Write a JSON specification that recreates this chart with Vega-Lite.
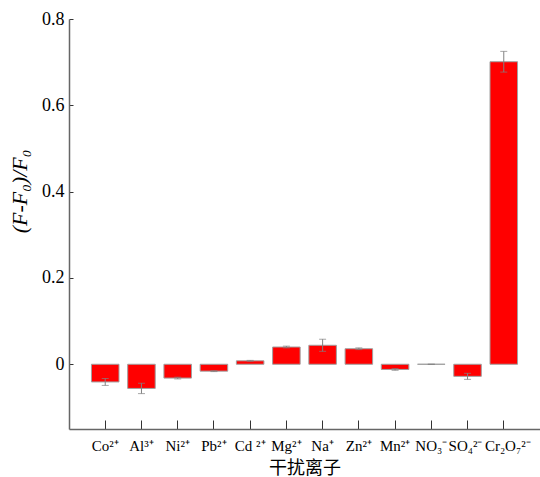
{
  "$schema": "https://vega.github.io/schema/vega-lite/v6.json",
  "autosize": {"type": "none"},
  "width": 471,
  "height": 410,
  "padding": {"left": 69, "top": 19, "right": 0, "bottom": 48},
  "background": "white",
  "config": {
    "view": {"stroke": null},
    "font": "Liberation Serif"
  },
  "data": {
    "values": [
      {"ion": "Co²⁺", "value": -0.041, "err": 0.008},
      {"ion": "Al³⁺", "value": -0.056, "err": 0.012},
      {"ion": "Ni²⁺", "value": -0.032, "err": 0.002},
      {"ion": "Pb²⁺", "value": -0.016, "err": 0.001},
      {"ion": "Cd ²⁺", "value": 0.008, "err": 0.001},
      {"ion": "Mg²⁺", "value": 0.040, "err": 0.002},
      {"ion": "Na⁺", "value": 0.044, "err": 0.014},
      {"ion": "Zn²⁺", "value": 0.036, "err": 0.002},
      {"ion": "Mn²⁺", "value": -0.012, "err": 0.002},
      {"ion": "NO₃⁻", "value": 0.0, "err": null},
      {"ion": "SO₄²⁻", "value": -0.028, "err": 0.007},
      {"ion": "Cr₂O₇²⁻", "value": 0.701, "err": 0.024}
    ]
  },
  "encoding": {
    "x": {
      "field": "ion",
      "type": "nominal",
      "sort": null,
      "scale": {"paddingInner": 0.24, "paddingOuter": 0.62},
      "axis": {
        "title": "干扰离子",
        "titleFont": "Noto Sans CJK SC",
        "titleFontSize": 18,
        "titleFontWeight": "normal",
        "titleColor": "black",
        "titlePadding": 6,
        "labelAngle": 0,
        "labelFontSize": 15,
        "labelColor": "black",
        "labelOverlap": false,
        "labelPadding": 18,
        "labelOffset": {
          "condition": [
            {"test": "datum.value == 'Cr₂O₇²⁻'", "value": 4},
            {"test": "datum.value == 'SO₄²⁻'", "value": -2}
          ],
          "value": 0
        },
        "tickSize": -9,
        "tickColor": "#333",
        "domainColor": "#666",
        "domainWidth": 1.5,
        "grid": false
      }
    }
  },
  "layer": [
    {
      "mark": {"type": "bar", "color": "#ff0000", "stroke": "#a0a0a0", "strokeWidth": 1},
      "encoding": {
        "y": {
          "field": "value",
          "type": "quantitative",
          "title": "(F-F₀)/F₀",
          "scale": {"domain": [-0.15, 0.8], "nice": false, "zero": false},
          "axis": {
            "titleFontStyle": "italic",
            "titleFontWeight": "normal",
            "titleFontSize": 22,
            "titleColor": "black",
            "titleY": 172,
            "titlePadding": 10,
            "values": [0, 0.2, 0.4, 0.6, 0.8],
            "labelExpr": "datum.value == 0 ? '0' : format(datum.value, '.1f')",
            "labelFontSize": 18,
            "labelColor": "black",
            "labelPadding": 9,
            "tickSize": -4,
            "tickColor": "#333",
            "domainColor": "#666",
            "domainWidth": 1.5,
            "grid": false
          }
        }
      }
    },
    {
      "mark": {"type": "errorbar", "ticks": {"size": 7, "color": "#808080"}, "rule": {"color": "#808080"}},
      "encoding": {
        "y": {"field": "value", "type": "quantitative", "title": "(F-F₀)/F₀"},
        "yError": {"field": "err"}
      }
    },
    {
      "mark": {"type": "rule", "color": "black", "strokeWidth": 1.5},
      "encoding": {"y": {"datum": 0}}
    }
  ]
}
